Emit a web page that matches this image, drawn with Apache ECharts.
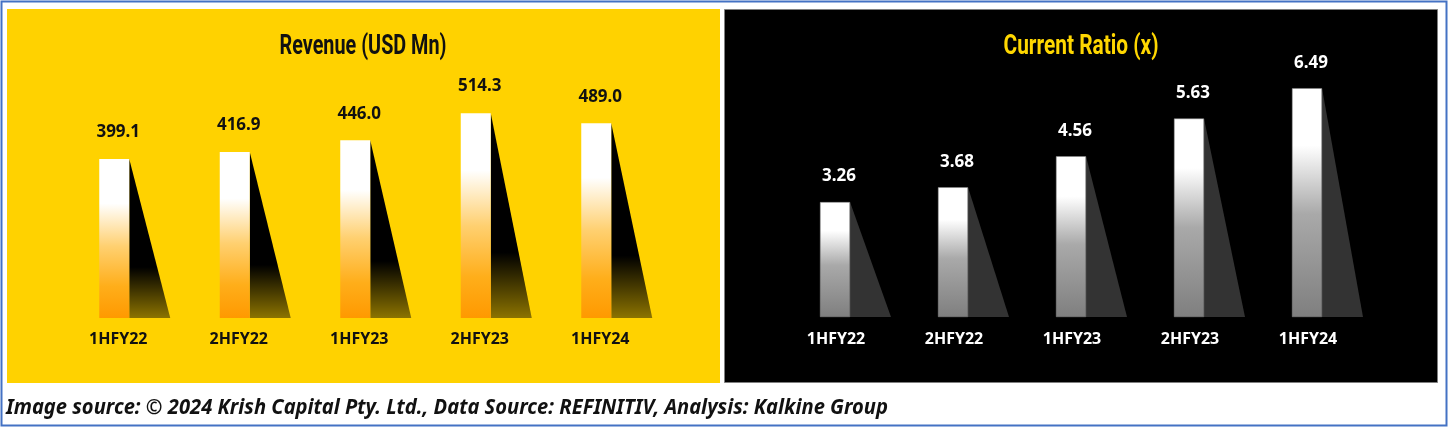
<!DOCTYPE html>
<html><head><meta charset="utf-8">
<script src="https://cdn.jsdelivr.net/npm/echarts@6/dist/echarts.min.js"></script>
<style>html,body{margin:0;padding:0;background:#fff}#c{width:1448px;height:427px}</style>
</head><body><div id="c"></div>
<script>
const categories = ['1HFY22', '2HFY22', '1HFY23', '2HFY23', '1HFY24'];
const revenue = [399.1, 416.9, 446.0, 514.3, 489.0];
const currentRatio = [3.26, 3.68, 4.56, 5.63, 6.49];
const leftTitle = 'Revenue (USD Mn)';
const rightTitle = 'Current Ratio (x)';
const footer = 'Image source: \u00A9 2024 Krish Capital Pty. Ltd., Data Source: REFINITIV, Analysis: Kalkine Group';

const BAR_W = 30, SHADOW_W = 41;
const FONT = '"Noto Sans", "Open Sans", sans-serif';

function measure(text, font) {
  const c = document.createElement('canvas').getContext('2d');
  c.font = font; return c.measureText(text).width;
}
function fitText(text, x, y, font, targetW, fill, align) {
  const w = measure(text, font);
  return {
    type: 'text', x: x, y: y, z: 50, scaleX: targetW / w, scaleY: 1,
    style: { text: text, x: 0, y: 0, font: font, fill: fill, align: align, verticalAlign: 'middle' }
  };
}

const chart = echarts.init(document.getElementById('c'), null, { renderer: 'canvas' });

function shadowSeries(data, xi, fill) {
  return {
    type: 'custom', xAxisIndex: xi, yAxisIndex: xi, z: 1,
    data: data.map((v, i) => [i, v]),
    encode: { x: 0, y: 1 },
    renderItem: function (params, api) {
      const top = api.coord([api.value(0), api.value(1)]);
      const base = api.coord([api.value(0), 0]);
      const x = top[0] + BAR_W / 2;
      return {
        type: 'polygon',
        shape: { points: [[x, top[1]], [x, base[1]], [x + SHADOW_W, base[1]]] },
        style: { fill: fill }
      };
    }
  };
}

const leftShadow = new echarts.graphic.LinearGradient(0, 0, 0, 1, [
  { offset: 0, color: '#000' }, { offset: 0.68, color: '#000' }, { offset: 1, color: 'rgba(0,0,0,0.45)' }]);
const leftBar = new echarts.graphic.LinearGradient(0, 0, 0, 1, [
  { offset: 0, color: '#ffffff' }, { offset: 0.28, color: '#ffffff' }, { offset: 0.55, color: '#FFD070' },
  { offset: 0.8, color: '#FFAE1A' }, { offset: 1, color: '#FF9900' }]);
const rightBar = new echarts.graphic.LinearGradient(0, 0, 0, 1, [
  { offset: 0, color: '#ffffff' }, { offset: 0.25, color: '#ffffff' }, { offset: 0.55, color: '#a9a9a9' },
  { offset: 1, color: '#7f7f7f' }]);

const option = {
  animation: false,
  backgroundColor: '#ffffff',
  graphic: [
    { type: 'rect', z: 0, shape: { x: 1.5, y: 1.5, width: 1445, height: 424 }, style: { fill: '#fff', stroke: '#4472C4', lineWidth: 2 } },
    { type: 'rect', z: 0, shape: { x: 7, y: 9, width: 713, height: 374 }, style: { fill: '#FFD200' } },
    { type: 'rect', z: 0, shape: { x: 724.5, y: 9.5, width: 713, height: 373 }, style: { fill: '#000', stroke: '#7f7f7f', lineWidth: 1 } },
    fitText(leftTitle, 363, 47, 'bold 28px Roboto, sans-serif', 167, '#111', 'center'),
    fitText(rightTitle, 1081, 47, 'bold 28px Roboto, sans-serif', 155, '#FFD700', 'center'),
    fitText(footer, 6, 408, 'italic bold 21px ' + FONT, 882, '#111', 'left')
  ],
  grid: [
    { left: 54, width: 602.5, top: 79, height: 239 },
    { left: 776, width: 590, top: 35, height: 282 }
  ],
  xAxis: [
    { type: 'category', gridIndex: 0, data: categories, axisLine: { show: false }, axisTick: { show: false },
      axisLabel: { color: '#111', fontWeight: 'bold', fontSize: 16, fontFamily: FONT, margin: 13, padding: [0, 0, 0, 8] } },
    { type: 'category', gridIndex: 1, data: categories, axisLine: { show: false }, axisTick: { show: false },
      axisLabel: { color: '#fff', fontWeight: 'bold', fontSize: 16, fontFamily: FONT, margin: 14, padding: [0, 0, 0, 2] } }
  ],
  yAxis: [
    { type: 'value', gridIndex: 0, min: 0, max: 600, show: false, splitLine: { show: false } },
    { type: 'value', gridIndex: 1, min: 0, max: 8, show: false, splitLine: { show: false } }
  ],
  series: [
    shadowSeries(revenue, 0, leftShadow),
    { type: 'bar', xAxisIndex: 0, yAxisIndex: 0, z: 2, data: revenue, barWidth: BAR_W,
      itemStyle: { color: leftBar },
      label: { show: true, position: 'top', distance: 18, offset: [4, 0], color: '#111', fontSize: 17, fontWeight: 'bold', fontFamily: FONT,
        formatter: p => p.value.toFixed(1) } },
    shadowSeries(currentRatio, 1, '#333333'),
    { type: 'bar', xAxisIndex: 1, yAxisIndex: 1, z: 2, data: currentRatio, barWidth: BAR_W,
      itemStyle: { color: rightBar, borderColor: '#8a8a8a', borderWidth: 0.5 },
      label: { show: true, position: 'top', distance: 17, offset: [4, 0], color: '#fff', fontSize: 17, fontWeight: 'bold', fontFamily: FONT,
        formatter: p => p.value.toFixed(2) } }
  ]
};
chart.setOption(option);
</script></body></html>
